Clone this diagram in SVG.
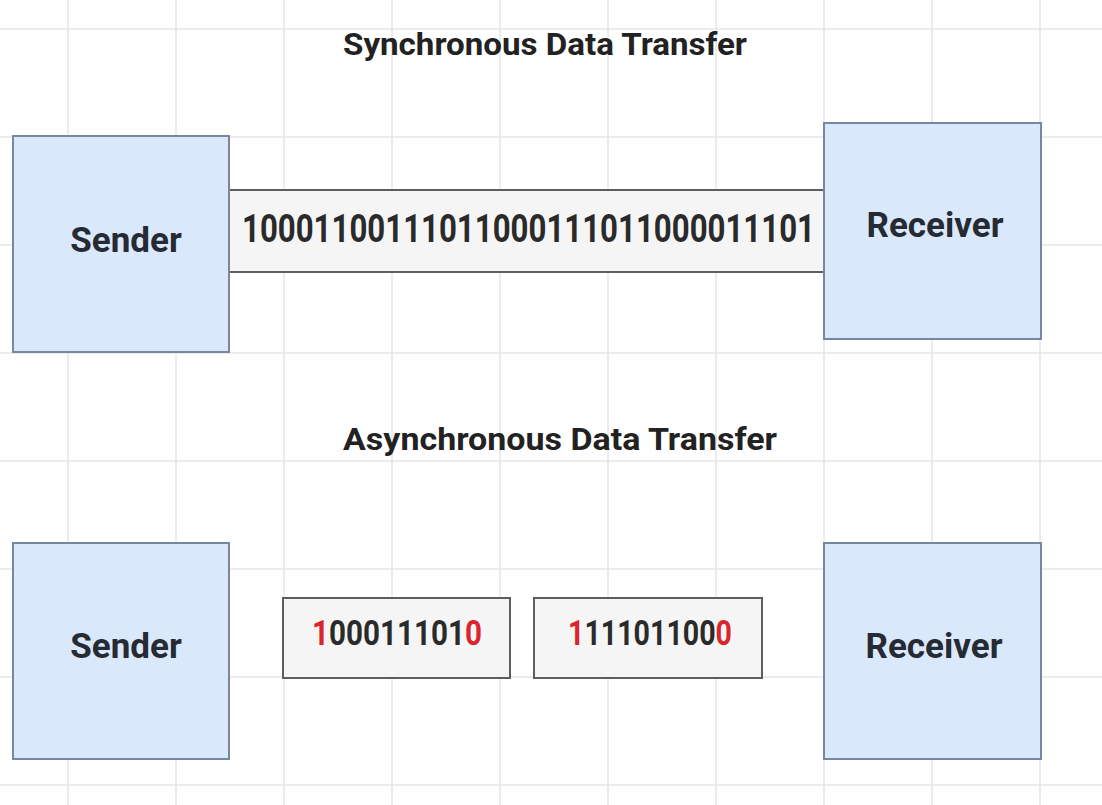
<svg xmlns="http://www.w3.org/2000/svg" width="1102" height="805" viewBox="0 0 1102 805">
<style>
.grid line{stroke:#e6e6e6;stroke-width:1.5}
.node{fill:#dae8fc;stroke:#75889f;stroke-width:2}
.data{fill:#f5f5f5;stroke:#5e5e5e;stroke-width:2}
text{font-family:Roboto,"Liberation Sans",Arial,sans-serif;font-weight:bold;fill:#252a33}
.title{font-size:31px;fill:#222}
.lbl{font-size:35px;text-anchor:middle}
.bits{font-size:32px;fill:#2a2a2a}
.abits{font-size:30px;fill:#2a2a2a}
.abits2{font-size:29px;fill:#2a2a2a}
.red{fill:#d9252b}
</style>
<rect width="1102" height="805" fill="#ffffff"/>
<g class="grid">
<line x1="68" y1="0" x2="68" y2="805"/><line x1="176" y1="0" x2="176" y2="805"/><line x1="284" y1="0" x2="284" y2="805"/><line x1="392" y1="0" x2="392" y2="805"/><line x1="500" y1="0" x2="500" y2="805"/><line x1="608" y1="0" x2="608" y2="805"/><line x1="716" y1="0" x2="716" y2="805"/><line x1="824" y1="0" x2="824" y2="805"/><line x1="932" y1="0" x2="932" y2="805"/><line x1="1040" y1="0" x2="1040" y2="805"/>
<line x1="0" y1="29" x2="1102" y2="29"/><line x1="0" y1="137" x2="1102" y2="137"/><line x1="0" y1="245" x2="1102" y2="245"/><line x1="0" y1="353" x2="1102" y2="353"/><line x1="0" y1="461" x2="1102" y2="461"/><line x1="0" y1="569" x2="1102" y2="569"/><line x1="0" y1="677" x2="1102" y2="677"/><line x1="0" y1="785" x2="1102" y2="785"/>
</g>
<text class="title" x="343" y="55" textLength="404" lengthAdjust="spacingAndGlyphs">Synchronous Data Transfer</text>
<text class="title" x="343" y="450" textLength="434" lengthAdjust="spacingAndGlyphs">Asynchronous Data Transfer</text>
<g id="connectors">
<g id="sync-stream">
<rect class="data" x="229" y="190" width="595" height="82"/>
<text class="bits" x="242" y="201.7" transform="scale(1,1.2)" textLength="573" lengthAdjust="spacingAndGlyphs">10001100111011000111011000011101</text>
</g>
</g>
<g id="sender-sync">
<rect class="node" x="13" y="136" width="216" height="216"/>
<text class="lbl" x="126" y="252">Sender</text>
</g>
<g id="receiver-sync">
<rect class="node" x="824" y="123" width="217" height="216"/>
<text class="lbl" x="935" y="237">Receiver</text>
</g>
<g id="sender-async">
<rect class="node" x="13" y="543" width="216" height="216"/>
<text class="lbl" x="126" y="658">Sender</text>
</g>
<g id="receiver-async">
<rect class="node" x="824" y="543" width="217" height="216"/>
<text class="lbl" x="934" y="658">Receiver</text>
</g>
<g id="frame1">
<rect class="data" x="283" y="598" width="227" height="80"/>
<g transform="translate(0,645) scale(1,1.17)">
<text class="abits red" x="312" y="0" textLength="17" lengthAdjust="spacingAndGlyphs">1</text>
<text class="abits" x="329" y="0" textLength="136" lengthAdjust="spacingAndGlyphs">00011101</text>
<text class="abits red" x="465" y="0" textLength="17" lengthAdjust="spacingAndGlyphs">0</text>
</g>
</g>
<g id="frame2">
<rect class="data" x="534" y="598" width="228" height="80"/>
<g transform="translate(0,645) scale(1,1.21)">
<text class="abits2 red" x="568" y="0" textLength="16.4" lengthAdjust="spacingAndGlyphs">1</text>
<text class="abits2" x="584.4" y="0" textLength="131.2" lengthAdjust="spacingAndGlyphs">11101100</text>
<text class="abits2 red" x="715.6" y="0" textLength="16.4" lengthAdjust="spacingAndGlyphs">0</text>
</g>
</g>
</svg>
